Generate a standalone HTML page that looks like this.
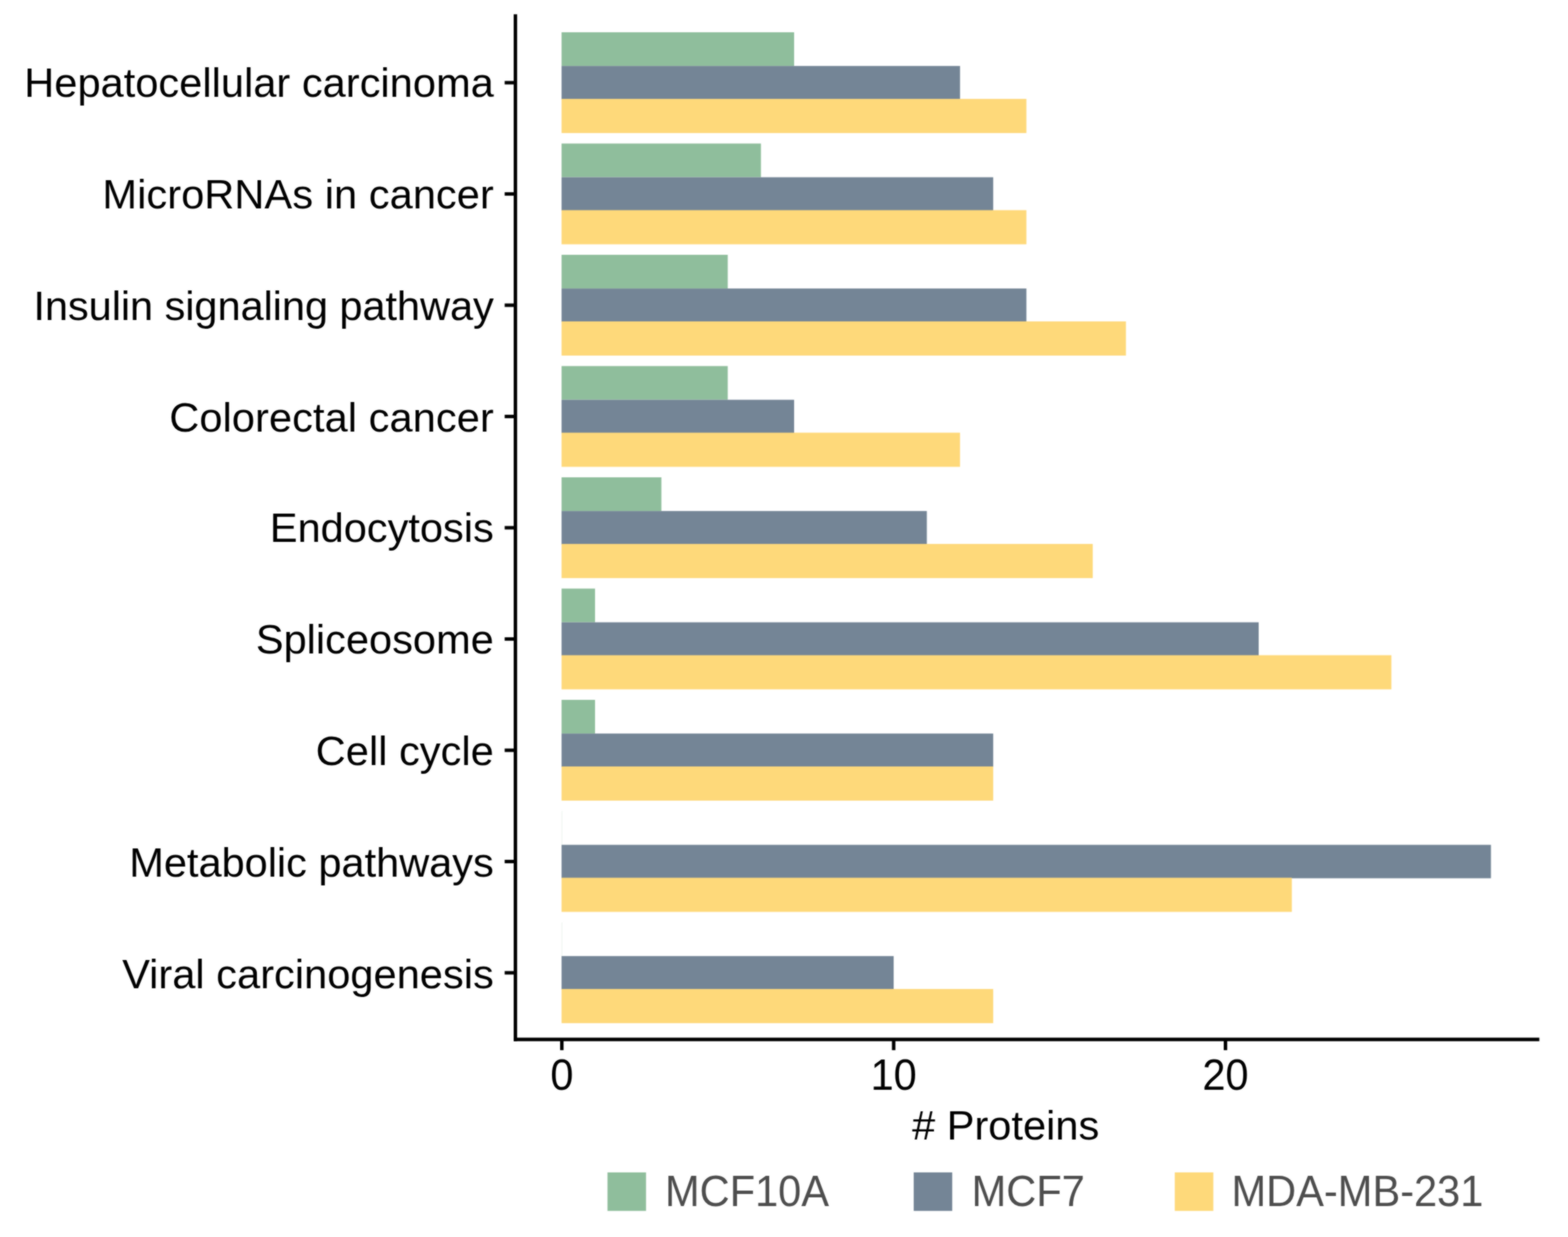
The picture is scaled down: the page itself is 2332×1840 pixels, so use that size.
<!DOCTYPE html>
<html lang="en"><head><meta charset="utf-8"><title># Proteins by pathway</title>
<style>html,body{margin:0;padding:0;background:#fff;}body{width:2332px;height:1840px;overflow:hidden;}svg{display:block;}text{font-family:"Liberation Sans",Arial,Helvetica,sans-serif;}.ax{font-size:61.86px;fill:#000;}.lg{font-size:61.86px;fill:#4d4d4d;}</style></head><body>
<svg width="2332" height="1840" viewBox="0 0 2332 1840">
<rect x="0" y="0" width="2332" height="1840" fill="#ffffff"/>
<defs><filter id="soft" filterUnits="userSpaceOnUse" x="0" y="0" width="2332" height="1840" color-interpolation-filters="sRGB"><feGaussianBlur in="SourceGraphic" stdDeviation="1" result="b"/><feComposite in="b" in2="SourceGraphic" operator="arithmetic" k1="0" k2="0.65" k3="0.35" k4="0"/></filter></defs>
<g filter="url(#soft)">
<g>
<rect x="835.2" y="48" width="345.85" height="50.15" fill="#8FBE9C"/>
<rect x="835.2" y="98.15" width="592.6" height="49.75" fill="#748596"/>
<rect x="835.2" y="147.1" width="691.3" height="50.8" fill="#FED97A"/>
<rect x="835.2" y="213.5" width="296.5" height="50.15" fill="#8FBE9C"/>
<rect x="835.2" y="263.65" width="641.95" height="49.75" fill="#748596"/>
<rect x="835.2" y="312.6" width="691.3" height="50.8" fill="#FED97A"/>
<rect x="835.2" y="379" width="247.15" height="50.15" fill="#8FBE9C"/>
<rect x="835.2" y="429.15" width="691.3" height="49.75" fill="#748596"/>
<rect x="835.2" y="478.1" width="839.35" height="50.8" fill="#FED97A"/>
<rect x="835.2" y="544.5" width="247.15" height="50.15" fill="#8FBE9C"/>
<rect x="835.2" y="594.65" width="345.85" height="49.75" fill="#748596"/>
<rect x="835.2" y="643.6" width="592.6" height="50.8" fill="#FED97A"/>
<rect x="835.2" y="710" width="148.45" height="50.15" fill="#8FBE9C"/>
<rect x="835.2" y="760.15" width="543.25" height="49.75" fill="#748596"/>
<rect x="835.2" y="809.1" width="790" height="50.8" fill="#FED97A"/>
<rect x="835.2" y="875.5" width="49.75" height="50.15" fill="#8FBE9C"/>
<rect x="835.2" y="925.65" width="1036.75" height="49.75" fill="#748596"/>
<rect x="835.2" y="974.6" width="1234.15" height="50.8" fill="#FED97A"/>
<rect x="835.2" y="1041" width="49.75" height="50.15" fill="#8FBE9C"/>
<rect x="835.2" y="1091.15" width="641.95" height="49.75" fill="#748596"/>
<rect x="835.2" y="1140.1" width="641.95" height="50.8" fill="#FED97A"/>
<rect x="835.15" y="1206.5" width="1.3" height="50.15" fill="#8FBE9C" fill-opacity="0.16"/>
<rect x="835.2" y="1256.65" width="1382.2" height="49.75" fill="#748596"/>
<rect x="835.2" y="1305.6" width="1086.1" height="50.8" fill="#FED97A"/>
<rect x="835.15" y="1372" width="1.3" height="50.15" fill="#8FBE9C" fill-opacity="0.16"/>
<rect x="835.2" y="1422.15" width="493.9" height="49.75" fill="#748596"/>
<rect x="835.2" y="1471.1" width="641.95" height="50.8" fill="#FED97A"/>
</g>
<g stroke="#000" stroke-width="5.15" fill="none">
<path stroke-linecap="square" d="M766.55 23.9V1546.1"/>
<path stroke-linecap="square" d="M766.55 1546.1H2286.8"/>
<path d="M750.55 123H766.55"/>
<path d="M750.55 288.5H766.55"/>
<path d="M750.55 454H766.55"/>
<path d="M750.55 619.5H766.55"/>
<path d="M750.55 785H766.55"/>
<path d="M750.55 950.5H766.55"/>
<path d="M750.55 1116H766.55"/>
<path d="M750.55 1281.5H766.55"/>
<path d="M750.55 1447H766.55"/>
<path d="M835.6 1546.1V1562.1"/>
<path d="M1329.1 1546.1V1562.1"/>
<path d="M1822.6 1546.1V1562.1"/>
</g>
<g class="ax" text-anchor="end">
<text x="734.4" y="144.4" textLength="698.35">Hepatocellular carcinoma</text>
<text x="734.4" y="310.2" textLength="582.04">MicroRNAs in cancer</text>
<text x="734.4" y="476.4" textLength="684.67">Insulin signaling pathway</text>
<text x="734.4" y="641.74" textLength="482.6">Colorectal cancer</text>
<text x="734.4" y="806.24" textLength="333.16">Endocytosis</text>
<text x="734.4" y="971.7" textLength="353.96">Spliceosome</text>
<text x="734.4" y="1138.05" textLength="264.84">Cell cycle</text>
<text x="734.4" y="1303.5" textLength="542.17">Metabolic pathways</text>
<text x="734.4" y="1469.93" textLength="552.75">Viral carcinogenesis</text>
</g>
<g class="ax" text-anchor="middle">
<text transform="scale(1 1.04)" x="835.6" y="1558.37">0</text>
<text transform="scale(1 1.04)" x="1329.1" y="1558.37">10</text>
<text transform="scale(1 1.04)" x="1822.6" y="1558.37">20</text>
<text x="1495.7" y="1695"># Proteins</text>
</g>
<g class="lg">
<rect x="903.5" y="1743.9" width="57.3" height="57.3" fill="#8FBE9C"/>
<text transform="scale(1 1.04)" x="989" y="1725">MCF10A</text>
<rect x="1358.9" y="1743.9" width="57.3" height="57.3" fill="#748596"/>
<text transform="scale(1 1.04)" x="1445" y="1725">MCF7</text>
<rect x="1747.2" y="1743.9" width="57.3" height="57.3" fill="#FED97A"/>
<text transform="scale(1 1.04)" x="1831.6" y="1725">MDA-MB-231</text>
</g>
</g>
</svg></body></html>
